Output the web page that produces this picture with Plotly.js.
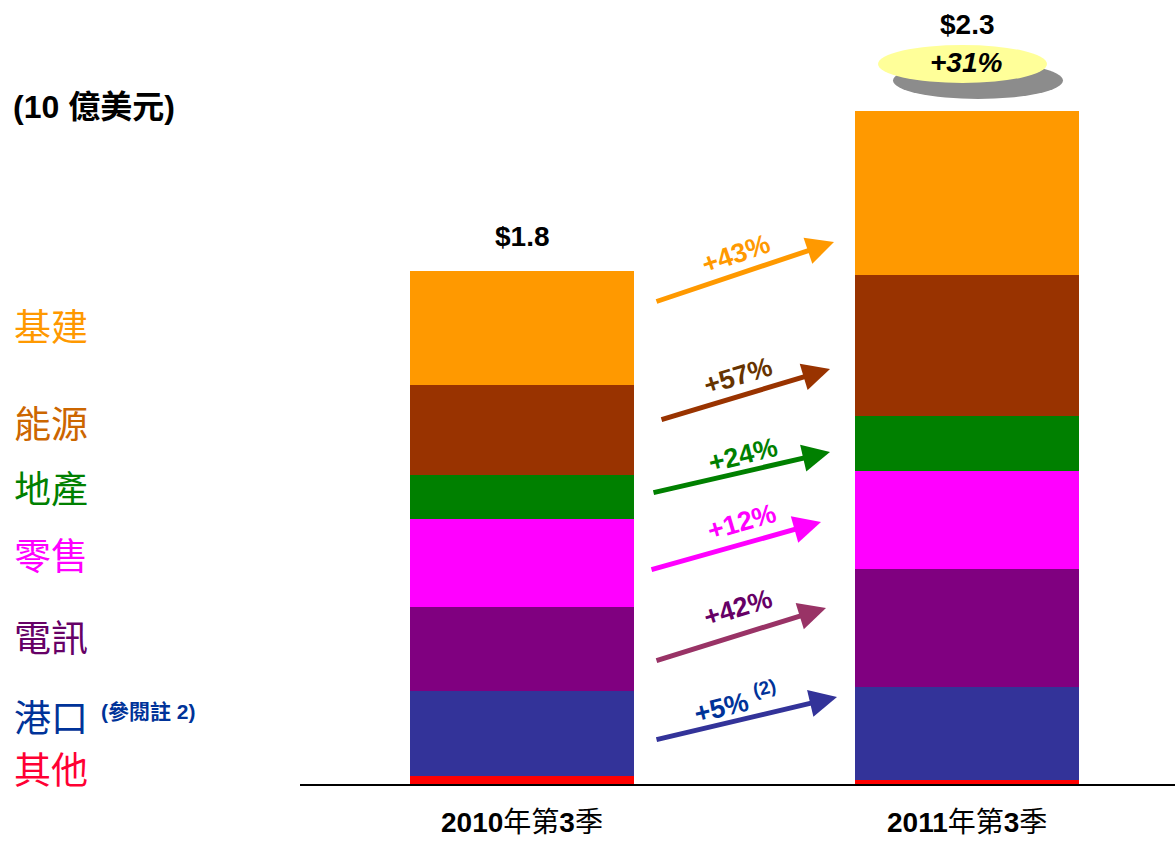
<!DOCTYPE html>
<html>
<head>
<meta charset="utf-8">
<script src="https://cdn.plot.ly/plotly-3.0.1.min.js"></script>
<style>
html,body{margin:0;padding:0;background:#fff;}
#chart{width:1175px;height:841px;}
</style>
</head>
<body>
<div id="chart"></div>
<script>
// ---- data (US$ billions) ----
const periods = ["2010年第3季", "2011年第3季"];
const totalsText = ["$1.8", "$2.3"];
const segmentNames = ["其他", "港口", "電訊", "零售", "地產", "能源", "基建"];
const segmentColors = ["#FF0000", "#333399", "#800080", "#FF00FF", "#008000", "#993300", "#FF9900"];
const other    = [0.028, 0.014];
const ports    = [0.298, 0.326];
const telecom  = [0.295, 0.414];
const retail   = [0.309, 0.344];
const property = [0.154, 0.193];
const energy   = [0.316, 0.495];
const infra    = [0.400, 0.575];
const growthText = ["+43%", "+57%", "+24%", "+12%", "+42%", "+5% <sup>(2)</sup>"];
const totalGrowth = "+31%";

const series = [other, ports, telecom, retail, property, energy, infra];

// ---- layout helpers (pixel -> paper) ----
const L = 300, R = 1175, T = 0, B = 784;
const px = x => (x - L) / (R - L);
const py = y => (B - y) / (B - T);
const yMax = 2.751;

const traces = series.map((vals, i) => ({
  type: "bar",
  x: [0, 1],
  y: vals,
  name: segmentNames[i],
  marker: {color: segmentColors[i], line: {width: 0}},
  width: 0.503,
  hoverinfo: "skip"
}));

const totals = [0, 1].map(j => series.reduce((s, a) => s + a[j], 0));

const annotations = [];
const shapes = [];
const LAT = "Liberation Sans, Arial, Noto Sans CJK TC";

// total labels
annotations.push({
  x: 0, y: totals[0], xref: "x", yref: "y", xanchor: "center", yanchor: "bottom", yshift: 17,
  text: "<b>" + totalsText[0] + "</b>", showarrow: false,
  font: {family: LAT, size: 28, color: "#000"}
});
annotations.push({
  x: px(967), y: py(25), xref: "paper", yref: "paper", xanchor: "center", yanchor: "middle",
  text: "<b>" + totalsText[1] + "</b>", showarrow: false,
  font: {family: LAT, size: 28, color: "#000"}
});

// ellipses
shapes.push({type: "circle", xref: "paper", yref: "paper",
  x0: px(893), x1: px(1063), y0: py(99), y1: py(62),
  fillcolor: "#8c8c8c", line: {width: 0}});
shapes.push({type: "circle", xref: "paper", yref: "paper",
  x0: px(878), x1: px(1047), y0: py(83), y1: py(45),
  fillcolor: "#FFFF99", line: {width: 0}});
annotations.push({
  x: px(966), y: py(62), xref: "paper", yref: "paper", xanchor: "center", yanchor: "middle",
  text: "<b><i>" + totalGrowth + "</i></b>", showarrow: false,
  font: {family: LAT, size: 28, color: "#000"}
});

// growth arrows: [tailX, tailY, headX, headY, arrowColor, labelX, labelY, labelColor, angle]
const arrows = [
  [655, 302, 834, 242, "#FF9900", 736, 254, "#FF9900", -19],
  [660, 420, 830, 369, "#993300", 738, 376, "#663300", -17],
  [652, 493, 830, 452, "#008000", 743, 455, "#008000", -14],
  [650, 570, 821, 522, "#FF00FF", 742, 522, "#FF00FF", -16],
  [655, 661, 826, 608, "#993366", 738, 608, "#660066", -17],
  [655, 740, 837, 697, "#333399", 735, 702, "#003399", -14]
];
arrows.forEach((a, i) => {
  annotations.push({
    x: px(a[2]), y: py(a[3]), xref: "paper", yref: "paper",
    ax: a[0] - a[2], ay: a[1] - a[3], axref: "pixel", ayref: "pixel",
    text: "", showarrow: true, arrowhead: 2, arrowsize: 1.1, arrowwidth: 5,
    arrowcolor: a[4], standoff: 0
  });
  annotations.push({
    x: px(a[5]), y: py(a[6]), xref: "paper", yref: "paper", xanchor: "center", yanchor: "middle",
    text: "<b>" + growthText[i] + "</b>", showarrow: false, textangle: a[8],
    font: {family: LAT, size: 27, color: a[7]}
  });
});

// left legend labels
const legendLabels = [
  ["基建", 325, "#FF9900"],
  ["能源", 422, "#CC6600"],
  ["地產", 487, "#008000"],
  ["零售", 554, "#FF00FF"],
  ["電訊", 636, "#660066"],
  ["港口", 716, "#003399"],
  ["其他", 768, "#FF0033"]
];
legendLabels.forEach(l => {
  annotations.push({
    x: px(12), y: py(l[1]), xref: "paper", yref: "paper", xanchor: "left", yanchor: "middle",
    text: l[0], showarrow: false,
    font: {family: "Noto Sans CJK TC", size: 37, color: l[2]}
  });
});
annotations.push({
  x: px(99), y: py(711), xref: "paper", yref: "paper", xanchor: "left", yanchor: "middle",
  text: "<b>(參閱註 2)</b>", showarrow: false,
  font: {family: LAT, size: 21, color: "#003399"}
});
annotations.push({
  x: px(11), y: py(107), xref: "paper", yref: "paper", xanchor: "left", yanchor: "middle",
  text: "<b>(10 億美元)</b>", showarrow: false,
  font: {family: LAT, size: 32, color: "#000"}
});

// category labels (digits bold, CJK regular), placed under the axis
const ticktext = periods.map(p => p.replace(/(\d+)/g, "<b>$1</b>"));
ticktext.forEach((t, j) => {
  annotations.push({
    x: j, y: py(822), xref: "x", yref: "paper", xanchor: "center", yanchor: "middle",
    text: t, showarrow: false,
    font: {family: LAT, size: 28, color: "#000"}
  });
});

const layout = {
  width: 1175, height: 841,
  margin: {l: L, r: 1175 - R, t: T, b: 841 - B, pad: 0},
  paper_bgcolor: "#fff", plot_bgcolor: "#fff",
  barmode: "stack", bargap: 0,
  showlegend: false,
  font: {family: LAT, color: "#000"},
  xaxis: {
    range: [-0.499, 1.467], tickvals: [0, 1], showticklabels: false,
    showline: true, linecolor: "#000", linewidth: 2,
    ticks: "", showgrid: false, zeroline: false,
    fixedrange: true
  },
  yaxis: {
    range: [0, yMax], visible: false, showgrid: false, zeroline: false, fixedrange: true
  },
  annotations: annotations,
  shapes: shapes
};

Plotly.newPlot("chart", traces, layout, {displayModeBar: false, staticPlot: true});
</script>
</body>
</html>
